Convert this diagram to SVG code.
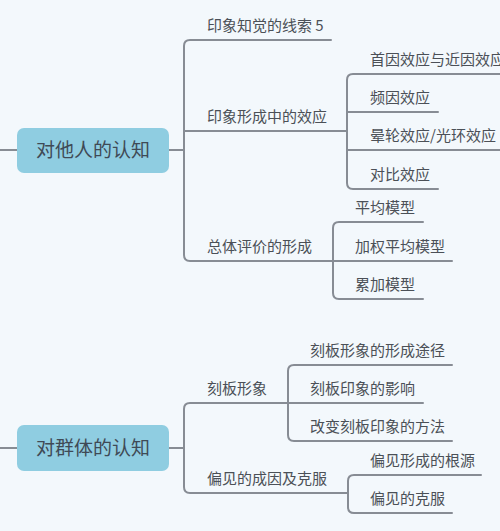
<svg xmlns="http://www.w3.org/2000/svg" width="500" height="531" viewBox="0 0 500 531">
<style>
.bg{fill:#f3f8fc}
.root rect{fill:#8fcde1}
.root text{font-family:"Noto Sans CJK SC","Noto Sans",sans-serif;font-size:19px;fill:#3f4a56;text-anchor:middle}
.n text{font-family:"Noto Sans CJK SC","Noto Sans",sans-serif;font-size:15px;fill:#4b5057}
.c path{fill:none;stroke:#878c94;stroke-width:2;stroke-linecap:round}
</style>
<rect class="bg" x="0" y="0" width="500" height="531"/>
<g class="c" id="connectors">
<path d="M0,150 H17"/>
<path d="M169,150 H184"/>
<path d="M331,40 H190 Q184,40 184,46 V255 Q184,261 190,261 H333"/>
<path d="M184,131 H347"/>
<path d="M500,74 H353 Q347,74 347,80 V183 Q347,189 353,189 H438"/>
<path d="M347,112 H438"/>
<path d="M347,150 H500"/>
<path d="M423,222 H339 Q333,222 333,228 V293 Q333,299 339,299 H423"/>
<path d="M333,261 H452"/>
<path d="M0,448 H17"/>
<path d="M169,448 H184"/>
<path d="M287,403 H190 Q184,403 184,409 V487 Q184,493 190,493 H348"/>
<path d="M452,365 H294 Q288,365 288,371 V435 Q288,441 294,441 H452"/>
<path d="M288,403 H423"/>
<path d="M481,475 H354 Q348,475 348,481 V507 Q348,513 354,513 H452"/>
</g>
<g class="root" id="root1"><rect x="17" y="128" width="152" height="45" rx="7"/><text x="93" y="157">对他人的认知</text></g>
<g class="root" id="root2"><rect x="17" y="425" width="152" height="46" rx="7"/><text x="93" y="455">对群体的认知</text></g>
<g class="n" id="n1"><text x="207" y="31">印象知觉的线索 5</text></g>
<g class="n" id="n2"><text x="207" y="122">印象形成中的效应</text></g>
<g class="n" id="n3"><text x="207" y="252">总体评价的形成</text></g>
<g class="n" id="n21"><text x="370" y="65">首因效应与近因效应</text></g>
<g class="n" id="n22"><text x="370" y="103">频因效应</text></g>
<g class="n" id="n23"><text x="370" y="141">晕轮效应/光环效应</text></g>
<g class="n" id="n24"><text x="370" y="180">对比效应</text></g>
<g class="n" id="n31"><text x="355" y="213">平均模型</text></g>
<g class="n" id="n32"><text x="355" y="252">加权平均模型</text></g>
<g class="n" id="n33"><text x="355" y="290">累加模型</text></g>
<g class="n" id="m1"><text x="207" y="394">刻板形象</text></g>
<g class="n" id="m2"><text x="207" y="484">偏见的成因及克服</text></g>
<g class="n" id="m11"><text x="310" y="356">刻板形象的形成途径</text></g>
<g class="n" id="m12"><text x="310" y="394">刻板印象的影响</text></g>
<g class="n" id="m13"><text x="310" y="432">改变刻板印象的方法</text></g>
<g class="n" id="m21"><text x="370" y="466">偏见形成的根源</text></g>
<g class="n" id="m22"><text x="370" y="504">偏见的克服</text></g>
</svg>
